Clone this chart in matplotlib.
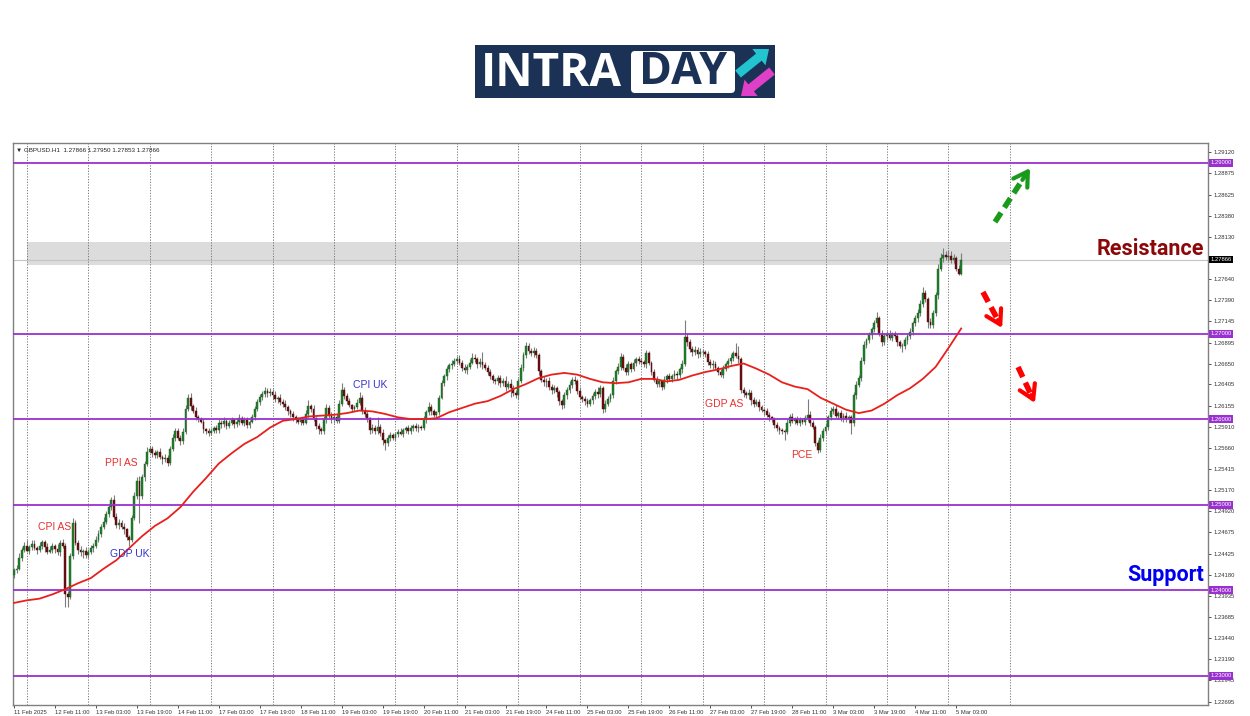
import numpy as np
import matplotlib
matplotlib.use('Agg')
import matplotlib.pyplot as plt
from matplotlib.patches import Rectangle, FancyBboxPatch, FancyArrow
from matplotlib.transforms import blended_transform_factory

plt.rcParams['font.family'] = ['Liberation Sans', 'DejaVu Sans']

# GBPUSD H1 candles from 11 Feb 19:00, prices in pips above 1.2000
first_open = 418
close_pips = [
    423, 425, 438, 447, 452, 446, 450, 454, 449, 447,
    452, 456, 450, 445, 447, 452, 448, 444, 455, 452,
    395, 392, 440, 478, 455, 447, 444, 446, 441, 445,
    449, 452, 458, 466, 474, 480, 489, 497, 505, 485,
    476, 479, 474, 471, 462, 459, 484, 510, 528, 510,
    532, 548, 562, 565, 560, 558, 561, 556, 553, 555,
    549, 565, 578, 586, 578, 574, 585, 612, 625, 615,
    610, 603, 600, 597, 588, 586, 584, 586, 589, 587,
    596, 594, 598, 592, 595, 599, 594, 597, 601, 596,
    599, 593, 597, 602, 612, 620, 626, 629, 633, 630,
    632, 628, 623, 625, 620, 618, 614, 609, 606, 602,
    600, 597, 599, 596, 606, 615, 612, 601, 592, 588,
    586, 600, 613, 604, 600, 603, 598, 618, 634, 627,
    621, 616, 612, 614, 619, 625, 610, 606, 601, 587,
    590, 586, 591, 584, 575, 572, 578, 581, 578, 582,
    585, 583, 587, 589, 586, 590, 592, 589, 591, 590,
    600, 608, 614, 609, 605, 608, 625, 642, 650, 658,
    663, 665, 668, 670, 666, 660, 657, 661, 666, 672,
    670, 664, 667, 663, 660, 655, 650, 646, 644, 648,
    642, 645, 638, 641, 636, 631, 628, 645, 660, 675,
    685, 680, 677, 680, 675, 656, 646, 643, 645, 638,
    634, 636, 632, 621, 616, 628, 634, 640, 646, 644,
    633, 626, 624, 621, 618, 622, 627, 632, 629, 636,
    612, 618, 624, 628, 645, 656, 661, 673, 660, 655,
    664, 659, 666, 670, 668, 667, 664, 677, 666, 655,
    646, 641, 644, 638, 646, 650, 647, 650, 653, 651,
    658, 665, 696, 690, 682, 678, 681, 676, 679, 678,
    676, 667, 663, 665, 660, 655, 652, 659, 664, 668,
    672, 677, 674, 670, 634, 630, 628, 631, 622, 618,
    620, 614, 611, 609, 605, 602, 600, 593, 589, 587,
    586, 585, 596, 603, 598, 600, 596, 599, 597, 601,
    605, 596, 591, 572, 564, 578, 586, 591, 602, 610,
    612, 604, 607, 601, 604, 600, 602, 595, 628, 640,
    648, 668, 687, 692, 698, 705, 712, 718, 700, 690,
    697, 700, 695, 699, 697, 690, 686, 685, 692, 697,
    702, 712, 718, 724, 735, 747, 740, 714, 710, 724,
    745, 776, 788, 792, 789, 791, 786, 788, 776, 770,
    786.6,
]
upper_wick = [
    3, 4, 5, 3, 4, 6, 3, 4, 5, 2,
    4, 3, 2, 5, 4, 3, 2, 6, 4, 5,
    3, 4, 3, 6, 4, 3, 5, 2, 4, 3,
    4, 3, 5, 4, 3, 5, 4, 3, 4, 6,
    5, 4, 3, 4, 2, 3, 4, 5, 4, 6,
    4, 3, 5, 4, 3, 4, 3, 5, 2, 4,
    3, 4, 5, 3, 4, 3, 5, 4, 4, 6,
    3, 4, 2, 3, 4, 2, 3, 4, 3, 4,
    4, 3, 5, 2, 4, 3, 2, 4, 5, 3,
    3, 4, 2, 4, 3, 4, 3, 4, 5, 3,
    4, 3, 5, 2, 4, 3, 4, 2, 3, 4,
    3, 2, 4, 3, 5, 7, 3, 4, 2, 3,
    3, 4, 5, 3, 4, 2, 3, 4, 8, 4,
    3, 4, 2, 3, 4, 7, 3, 4, 3, 2,
    4, 3, 12, 3, 4, 2, 3, 4, 3, 2,
    3, 4, 2, 3, 4, 3, 2, 4, 3, 2,
    4, 3, 6, 4, 3, 2, 3, 4, 3, 4,
    3, 4, 3, 4, 5, 3, 4, 3, 4, 5,
    4, 3, 5, 12, 4, 3, 4, 3, 2, 3,
    4, 3, 5, 3, 6, 4, 3, 3, 4, 3,
    5, 4, 3, 4, 3, 2, 3, 4, 3, 4,
    3, 4, 3, 2, 3, 4, 3, 4, 3, 4,
    3, 4, 2, 3, 4, 3, 4, 3, 5, 4,
    3, 4, 3, 2, 4, 3, 5, 4, 3, 4,
    4, 3, 4, 3, 4, 3, 2, 4, 3, 2,
    3, 4, 3, 2, 4, 3, 4, 3, 4, 3,
    3, 4, 20, 5, 4, 3, 4, 3, 4, 3,
    3, 4, 3, 4, 3, 2, 3, 4, 3, 4,
    4, 3, 12, 12, 3, 4, 3, 4, 3, 4,
    3, 4, 3, 2, 4, 3, 2, 3, 4, 3,
    3, 2, 4, 3, 4, 3, 4, 3, 2, 4,
    19, 4, 3, 2, 3, 4, 3, 4, 3, 4,
    3, 4, 3, 4, 3, 4, 3, 3, 4, 4,
    3, 5, 4, 3, 4, 3, 4, 7, 3, 4,
    4, 3, 4, 3, 4, 3, 2, 3, 4, 3,
    4, 3, 4, 5, 4, 8, 4, 3, 4, 3,
    4, 5, 6, 8, 5, 7, 6, 5, 3, 4,
    8,
]
lower_wick = [
    4, 3, 2, 4, 3, 2, 4, 3, 2, 5,
    3, 4, 5, 3, 2, 4, 5, 3, 4, 3,
    15, 12, 3, 4, 2, 5, 4, 7, 3, 4,
    3, 4, 3, 2, 4, 3, 3, 4, 3, 2,
    3, 4, 3, 5, 4, 7, 3, 2, 3, 32,
    3, 4, 3, 2, 4, 3, 4, 3, 5, 3,
    4, 3, 2, 4, 3, 4, 3, 2, 3, 4,
    3, 4, 3, 2, 4, 3, 4, 3, 2, 3,
    3, 4, 3, 4, 3, 2, 4, 3, 4, 3,
    4, 3, 3, 2, 3, 2, 3, 4, 3, 4,
    3, 4, 3, 4, 3, 4, 3, 4, 3, 4,
    4, 3, 4, 3, 2, 3, 4, 3, 4, 5,
    3, 3, 4, 3, 4, 5, 3, 2, 3, 4,
    3, 2, 4, 3, 2, 3, 4, 3, 4, 4,
    3, 4, 3, 4, 5, 8, 3, 4, 3, 4,
    3, 2, 4, 3, 4, 3, 4, 3, 4, 3,
    3, 4, 3, 4, 3, 4, 3, 2, 3, 4,
    3, 4, 3, 4, 3, 4, 3, 4, 3, 2,
    3, 4, 3, 4, 3, 4, 3, 4, 3, 4,
    4, 3, 5, 3, 10, 4, 3, 4, 3, 4,
    3, 4, 3, 4, 3, 4, 3, 4, 6, 4,
    5, 4, 6, 4, 4, 3, 4, 3, 4, 3,
    4, 3, 4, 5, 4, 3, 4, 3, 4, 3,
    5, 4, 3, 4, 3, 4, 3, 4, 3, 4,
    3, 4, 3, 4, 3, 4, 3, 4, 3, 4,
    3, 4, 3, 4, 3, 4, 3, 4, 3, 4,
    3, 4, 3, 4, 3, 4, 3, 4, 3, 4,
    3, 4, 3, 4, 3, 4, 3, 4, 3, 4,
    3, 4, 3, 4, 3, 4, 3, 4, 5, 4,
    3, 4, 3, 4, 3, 4, 3, 4, 3, 5,
    4, 10, 3, 4, 3, 4, 3, 4, 3, 4,
    3, 4, 3, 4, 4, 3, 4, 3, 4, 3,
    4, 3, 4, 3, 4, 3, 4, 12, 3, 4,
    3, 4, 3, 4, 3, 4, 3, 4, 3, 4,
    3, 4, 3, 4, 3, 4, 3, 6, 3, 4,
    3, 4, 3, 4, 3, 4, 3, 8, 3, 4,
    3, 4, 3, 4, 3, 4, 3, 4, 3, 2,
    1,
]
# moving average, one value every 5 bars
ma_step = 5
ma_pips = [
    385, 388, 390, 395, 401, 408, 414, 425, 435, 449,
    463, 475, 484, 497, 515, 531, 548, 560, 571, 579,
    590, 598, 600, 603, 604, 605, 607, 610, 609, 606,
    602, 600, 600, 601, 608, 613, 618, 621, 627, 635,
    641, 648, 652, 654, 652, 647, 643, 642, 643, 647,
    647, 644, 646, 651, 655, 658, 662, 665, 659, 652,
    643, 638, 635, 625, 618, 611, 607, 610, 618, 628,
    636, 647, 661, 683, 706,
]

time_labels = ['11 Feb 2025', '12 Feb 11:00', '13 Feb 03:00', '13 Feb 19:00', '14 Feb 11:00',
               '17 Feb 03:00', '17 Feb 19:00', '18 Feb 11:00', '19 Feb 03:00', '19 Feb 19:00',
               '20 Feb 11:00', '21 Feb 03:00', '21 Feb 19:00', '24 Feb 11:00', '25 Feb 03:00',
               '25 Feb 19:00', '26 Feb 11:00', '27 Feb 03:00', '27 Feb 19:00', '28 Feb 11:00',
               '3 Mar 03:00', '3 Mar 19:00', '4 Mar 11:00', '5 Mar 03:00']
label_every = 16
day_bars = list(range(5, 390, 24))
price_ticks = [1.29120, 1.28875, 1.28625, 1.28380, 1.28130, 1.27640, 1.27390, 1.27145,
               1.26895, 1.26650, 1.26405, 1.26155, 1.25910, 1.25660, 1.25415, 1.25170,
               1.24920, 1.24675, 1.24425, 1.24180, 1.23935, 1.23685, 1.23440, 1.23190,
               1.22945, 1.22695]
levels = [1.29, 1.27, 1.26, 1.25, 1.24, 1.23]
last_price = 1.27866
zone_low, zone_high = 1.27802, 1.28075

RED_TXT = '#e8302c'
BLUE_TXT = '#3333d0'
events = [('CPI AS', 16, 1.2474, RED_TXT), ('PPI AS', 41.8, 1.2549, RED_TXT),
          ('GDP UK', 45.3, 1.2442, BLUE_TXT), ('CPI UK', 139, 1.2640, BLUE_TXT),
          ('GDP AS', 277.3, 1.2618, RED_TXT), ('PCE', 307.8, 1.2558, RED_TXT)]

PURPLE = '#9b30d0'

closes = 1.2 + np.array(close_pips, dtype=float) / 10000
opens = 1.2 + np.concatenate([[first_open], close_pips[:-1]]).astype(float) / 10000
highs = np.maximum(opens, closes) + np.array(upper_wick) / 10000
lows = np.minimum(opens, closes) - np.array(lower_wick) / 10000
bars = np.arange(len(closes))
ma = 1.2 + np.array(ma_pips, dtype=float) / 10000
ma_x = np.arange(len(ma)) * ma_step

fig = plt.figure(figsize=(12.5, 7.16), dpi=100)
ax = fig.add_axes([13 / 1250, 1 - 705 / 716, (1208 - 13) / 1250, (705 - 143) / 716])
ax.set_xlim(-0.39, 466.4)
ax.set_ylim(1.22656, 1.29229)

# resistance zone, grid, levels
ax.fill_between([day_bars[0], day_bars[-1]], zone_low, zone_high, color='#dcdcdc', lw=0, zorder=1)
for b in day_bars:
    ax.axvline(b, color='#6a6a6a', lw=0.6, ls=(0, (1.5, 1.8)), zorder=2)
ax.axhline(last_price, color='#c4c4c4', lw=0.8, zorder=2)
for lv in levels:
    ax.axhline(lv, color=PURPLE, lw=1.3, zorder=5)

# candles
ax.vlines(bars, lows, highs, color='#7c7c7c', lw=0.8, zorder=3)
up = closes >= opens
ax.bar(bars[up], (closes - opens)[up], bottom=opens[up], width=0.72,
       color='#1f7f2a', edgecolor='#1a5e22', lw=0.3, zorder=4)
ax.bar(bars[~up], (closes - opens)[~up], bottom=opens[~up], width=0.72,
       color='#6e1010', edgecolor='#4a0a0a', lw=0.3, zorder=4)

ax.plot(ma_x, ma, color='#e8201c', lw=1.3, zorder=6)

for name, bx, py, col in events:
    ax.text(bx, py, name, color=col, fontsize=7.5, ha='center', va='center', zorder=7)

ax.text(464.8, 1.2799, 'Resistance', ha='right', va='center', fontsize=15.5,
        fontweight='bold', color='#8c0808', family=['Roboto', 'DejaVu Sans'], zorder=7)
ax.text(464.8, 1.2418, 'Support', ha='right', va='center', fontsize=15.5,
        fontweight='bold', color='#0000ee', family=['Roboto', 'DejaVu Sans'], zorder=7)


def dashed_arrow(x0, y0, x1, y1, col):
    xm = x0 + (x1 - x0) * 0.78
    ym = y0 + (y1 - y0) * 0.78
    ax.plot([x0, xm], [y0, ym], color=col, lw=4, ls=(0, (2, 1.1)),
            solid_capstyle='butt', zorder=7)
    ax.annotate('', xy=(x1, y1), xytext=(xm, ym),
                arrowprops=dict(arrowstyle='->,head_length=1.0,head_width=0.6',
                                color=col, lw=3, shrinkA=0, shrinkB=0), zorder=7)


dashed_arrow(383.2, 1.28305, 396.9, 1.28936, '#1a9a1a')
dashed_arrow(378.5, 1.27486, 386.0, 1.27065, '#ff0000')
dashed_arrow(392.2, 1.26609, 398.8, 1.26188, '#ff0000')

# axes styling
for sp in ax.spines.values():
    sp.set_color('#808080')
    sp.set_linewidth(1)
ax.yaxis.tick_right()
ax.set_yticks(price_ticks)
ax.set_yticklabels(['%.5f' % t for t in price_ticks])
ax.tick_params(axis='y', direction='out', length=2.5, width=0.6, labelsize=4.2,
               pad=1.5, colors='#333333')
ax.set_xticks(np.arange(len(time_labels)) * label_every)
ax.set_xticklabels(time_labels, ha='left')
ax.tick_params(axis='x', direction='out', length=2.5, width=0.6, labelsize=4.2,
               pad=1, colors='#333333')

trans = blended_transform_factory(ax.transAxes, ax.transData)
for lv in levels:
    ax.text(1.002, lv, '%.5f' % lv, transform=trans, fontsize=4.2, color='white',
            ha='left', va='center', clip_on=False, zorder=10,
            bbox=dict(boxstyle='square,pad=0.25', fc=PURPLE, ec='none'))
ax.text(1.002, last_price, '%.5f' % last_price, transform=trans, fontsize=4.2, color='white',
        ha='left', va='center', clip_on=False, zorder=10,
        bbox=dict(boxstyle='square,pad=0.25', fc='black', ec='none'))

ax.text(0.0025, 0.9875, '\u25bc GBPUSD.H1  1.27866 1.27950 1.27853 1.27866',
        transform=ax.transAxes, fontsize=4.5, ha='left', va='center', color='#222222')

# logo
lg = fig.add_axes([475 / 1250, 1 - 98 / 716, 300 / 1250, 53 / 716])
lg.set_xlim(0, 300)
lg.set_ylim(53, 0)
lg.axis('off')
lg.add_patch(Rectangle((0, 0), 300, 53, fc='#1c3156', ec='none'))
lg.add_patch(FancyBboxPatch((156, 6), 104, 42, boxstyle='round,pad=0,rounding_size=4',
                            fc='white', ec='none'))
lg.text(6, 28, 'INTRA', color='white', fontsize=33, fontweight='bold', ha='left',
        va='center', family=['Open Sans', 'DejaVu Sans'])
lg.text(208, 28, 'DAY', color='#1c3156', fontsize=32, fontweight='bold', ha='center',
        va='center', family=['Open Sans', 'DejaVu Sans'])
lg.add_patch(FancyArrow(263, 29, 31, -25, width=9, head_width=21, head_length=13,
                        length_includes_head=True, fc='#22c4d0', ec='none'))
lg.add_patch(FancyArrow(297, 26, -31, 25, width=9, head_width=21, head_length=13,
                        length_includes_head=True, fc='#e040c8', ec='none'))

fig.savefig('out.png', dpi=100)
